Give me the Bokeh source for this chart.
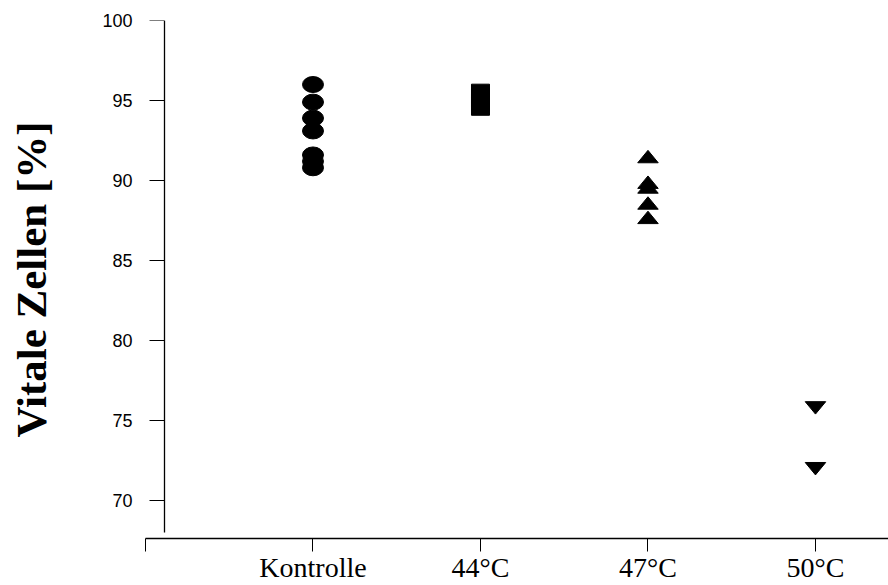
from bokeh.plotting import figure
from bokeh.models import Range1d, FixedTicker, LinearAxis, ColumnDataSource
from bokeh.embed import file_html
from bokeh.resources import INLINE

# Viability of cells per treatment group
categories = ["Kontrolle", "44°C", "47°C", "50°C"]
category_pos = [1, 2, 3, 4]
kontrolle = [96.0, 94.9, 93.9, 93.1, 91.6, 91.2, 90.8]
grad_44 = [95.6, 95.3, 95.0, 94.8, 94.5]
grad_47 = [91.5, 89.9, 89.6, 88.6, 87.7]
grad_50 = [75.8, 72.0]
y_ticks = [70, 75, 80, 85, 90, 95, 100]
x_ticks = [0, 1, 2, 3, 4]

W, H = 888, 585
LEFT, TOP, BOTTOM = 145, 20, 44
PX_Y = 16.1                      # pixels per percent
frame_h = H - TOP - BOTTOM
Y1 = 100
Y0 = Y1 - frame_h / PX_Y
X0, X1 = 0, 4.436

p = figure(width=W, height=H, output_backend="svg", toolbar_location=None,
           x_range=Range1d(X0, X1), y_range=Range1d(Y0, Y1),
           min_border_left=LEFT, min_border_right=0, min_border_top=TOP,
           min_border_bottom=BOTTOM)
p.background_fill_color = "white"
p.border_fill_color = "white"
p.outline_line_color = None
p.grid.visible = False

frame_w = W - LEFT
px_x = frame_w / (X1 - X0)

# left axis: tick labels and title only
lab_ax = p.yaxis[0]
lab_ax.ticker = FixedTicker(ticks=y_ticks)
lab_ax.axis_line_color = None
lab_ax.major_tick_line_color = None
lab_ax.minor_tick_line_color = None
lab_ax.major_tick_out = 0
lab_ax.major_tick_in = 0
lab_ax.minor_tick_out = 0
lab_ax.minor_tick_in = 0
lab_ax.major_label_standoff = 13
lab_ax.major_label_text_font = "Liberation Sans"
lab_ax.major_label_text_font_size = "18px"
lab_ax.major_label_text_color = "black"
lab_ax.axis_label = "Vitale Zellen [%]"
lab_ax.axis_label_text_font = "Liberation Serif"
lab_ax.axis_label_text_font_style = "bold"
lab_ax.axis_label_text_font_size = "43px"
lab_ax.axis_label_text_color = "black"
lab_ax.axis_label_standoff = 44

# y axis rule and ticks, set in from the start of the x axis
rule = LinearAxis(fixed_location=19 / px_x, bounds=(68, 100),
                  ticker=FixedTicker(ticks=y_ticks),
                  major_label_overrides={t: "" for t in y_ticks},
                  major_label_text_font_size="0px", major_label_standoff=0,
                  major_tick_in=15, major_tick_out=0,
                  minor_tick_in=0, minor_tick_out=0,
                  axis_line_color="black", axis_line_width=1.3,
                  major_tick_line_color="black")
p.add_layout(rule, "right")

# x axis
xax = p.xaxis[0]
xax.ticker = FixedTicker(ticks=x_ticks)
xax.major_label_overrides = {0: ""} | {c: lab for c, lab in zip(category_pos, categories)}
xax.major_tick_out = 13
xax.major_tick_in = 0
xax.minor_tick_out = 0
xax.minor_tick_in = 0
xax.axis_line_color = "black"
xax.axis_line_width = 1.3
xax.major_tick_line_color = "black"
xax.major_label_standoff = 0
xax.major_label_text_font = "Liberation Serif"
xax.major_label_text_font_size = "28px"
xax.major_label_text_color = "black"

# Kontrolle: filled ellipses
p.ellipse(x=[category_pos[0]] * len(kontrolle), y=kontrolle,
          width=21, height=16, width_units="screen", height_units="screen",
          fill_color="black", line_color="black")

# 44 °C: filled squares
p.rect(x=[category_pos[1]] * len(grad_44), y=grad_44,
       width=18, height=13.5, width_units="screen", height_units="screen",
       fill_color="black", line_color="black")


def triangles(xc, values, up=True, w_px=20.5, h_px=12.5):
    hw = w_px / 2 / px_x
    hh = h_px / 2 / PX_Y
    xs, ys = [], []
    for v in values:
        xs.append([xc - hw, xc + hw, xc])
        if up:
            ys.append([v - hh, v - hh, v + hh])
        else:
            ys.append([v + hh, v + hh, v - hh])
    return ColumnDataSource(dict(xs=xs, ys=ys))


# 47 °C: upward triangles, 50 °C: downward triangles
p.patches("xs", "ys", source=triangles(category_pos[2], grad_47, up=True),
          fill_color="black", line_color="black")
p.patches("xs", "ys", source=triangles(category_pos[3], grad_50, up=False),
          fill_color="black", line_color="black")

open("out.html", "w").write(file_html(p, INLINE))
